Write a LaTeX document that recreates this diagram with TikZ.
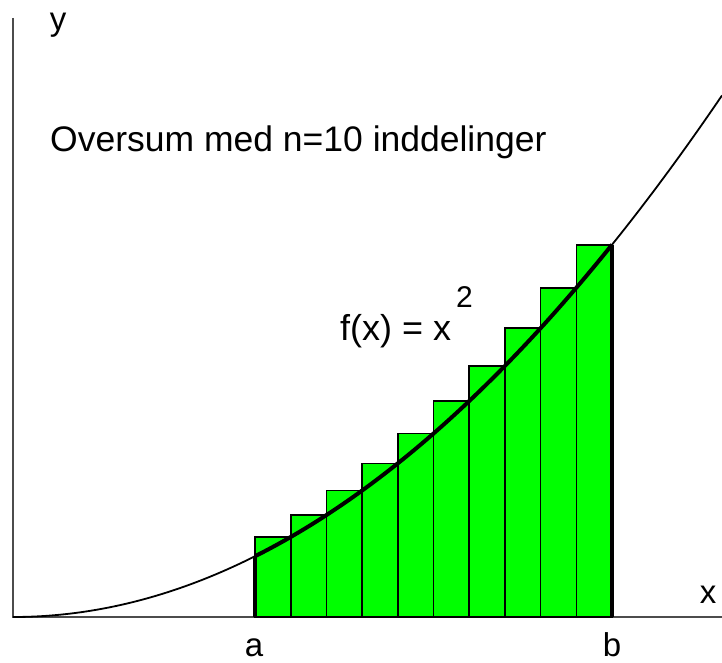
\documentclass[tikz,border=0pt]{standalone}
\usepackage{fontspec}
\setmainfont{Liberation Sans}
\begin{document}
\begin{tikzpicture}[x=1pt,y=-1pt,
  axis/.style={draw=black!70,line width=2pt},
  bar/.style={fill=green,draw=black,line width=1.6pt},
  lbl/.style={inner sep=0pt,font=\fontsize{33}{38}\selectfont},
  declare function={f(\x)=617-0.0010424*(\x-13)*(\x-13);}]
\useasboundingbox (0,0) rectangle (722,663);
% axes
\coordinate (O) at (13,617);
\coordinate (Ytop) at (13,18);
\coordinate (Xend) at (722,617);
\draw[axis] (Ytop) -- (O) -- (Xend);
% rectangles (oversum)
\foreach \i in {0,...,9}{
  \pgfmathsetmacro{\xl}{255+35.7*\i}
  \pgfmathsetmacro{\xr}{\xl+35.7}
  \pgfmathsetmacro{\yt}{f(\xr)}
  \draw[bar] (\xl,617) rectangle (\xr,\yt);
}
% thick boundary at a and b
\coordinate (A0) at (255,617);
\coordinate (A1) at (255,{f(255)});
\coordinate (B0) at (612,617);
\coordinate (B1) at (612,{f(612)});
\draw[line width=4pt] (A0) -- (A1);
\draw[line width=4pt] (B0) -- (B1);
% curve
\draw[line width=1.8pt,domain=13:722,samples=120] plot (\x,{f(\x)});
\draw[line width=4pt,domain=255:612,samples=80] plot (\x,{f(\x)});
% labels
\node[lbl,anchor=base] (ly) at (58,31) {y};
\node[lbl,anchor=base] (lx) at (708,603) {x};
\node[lbl,anchor=base] (la) at (254,656) {a};
\node[lbl,anchor=base] (lb) at (612,656) {b};
\node[lbl,anchor=base west,font=\fontsize{35.5}{40}\selectfont] (title) at (50,152) {Oversum med n=10 inddelinger};
\node[lbl,anchor=base west,font=\fontsize{36}{40}\selectfont] (fx) at (340,340) {f(x) = x};
\node[lbl,anchor=base west,font=\fontsize{30}{34}\selectfont] (sq) at (456,307) {2};
\end{tikzpicture}
\end{document}
